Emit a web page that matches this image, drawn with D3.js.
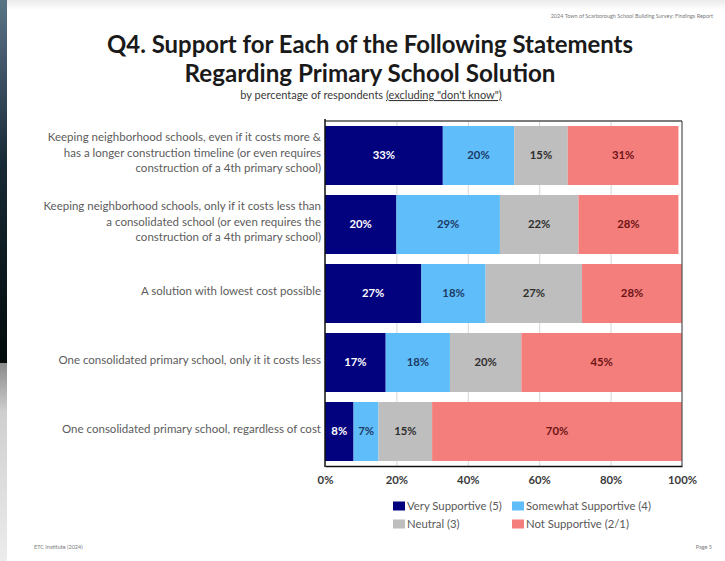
<!DOCTYPE html>
<html>
<head>
<meta charset="utf-8">
<script src="https://cdn.jsdelivr.net/npm/d3@7"></script>
<style>
  html, body { margin: 0; padding: 0; background: #ffffff; }
  svg { display: block; font-family: Lato, "Open Sans", sans-serif; }
</style>
</head>
<body>
<svg id="chart" width="725" height="561"></svg>
<script>
// Statements rated (line breaks mark how each label wraps)
const categories = [
  "Keeping neighborhood schools, even if it costs more &\nhas a longer construction timeline (or even requires\nconstruction of a 4th primary school)",
  "Keeping neighborhood schools, only if it costs less than\na consolidated school (or even requires the\nconstruction of a 4th primary school)",
  "A solution with lowest cost possible",
  "One consolidated primary school, only it it costs less",
  "One consolidated primary school, regardless of cost"
];
const seriesNames = ["Very Supportive (5)", "Somewhat Supportive (4)", "Neutral (3)", "Not Supportive (2/1)"];
// percentage of respondents per statement, one array per response level
const verySupportive     = [33, 20, 27, 17, 8];
const somewhatSupportive = [20, 29, 18, 18, 7];
const neutral            = [15, 22, 27, 20, 15];
const notSupportive      = [31, 28, 28, 45, 70];
const xTicks = [0, 20, 40, 60, 80, 100];

const colors     = ["#02027e", "#5fbefa", "#bebebe", "#f47e7c"];
const textColors = ["#ffffff", "#1d3a66", "#2e2e2e", "#6e1414"];

const svg = d3.select("#chart");

// ---- slide background ----
const defs = svg.append("defs");
const g1 = defs.append("linearGradient").attr("id", "edge").attr("x1", 0).attr("y1", 0).attr("x2", 0).attr("y2", 1);
g1.append("stop").attr("offset", "0%").attr("stop-color", "#587583");
g1.append("stop").attr("offset", "12%").attr("stop-color", "#4b5f75");
g1.append("stop").attr("offset", "45%").attr("stop-color", "#182a35");
g1.append("stop").attr("offset", "100%").attr("stop-color", "#020a0a");
const g2 = defs.append("linearGradient").attr("id", "edge2").attr("x1", 0).attr("y1", 0).attr("x2", 0).attr("y2", 1);
g2.append("stop").attr("offset", "0%").attr("stop-color", "#8a8a8a");
g2.append("stop").attr("offset", "25%").attr("stop-color", "#cfcfcf");
g2.append("stop").attr("offset", "100%").attr("stop-color", "#ececec");
const g3 = defs.append("linearGradient").attr("id", "topband").attr("x1", 0).attr("y1", 0).attr("x2", 0).attr("y2", 1);
g3.append("stop").attr("offset", "0%").attr("stop-color", "#ebebeb");
g3.append("stop").attr("offset", "100%").attr("stop-color", "#ffffff");

svg.append("rect").attr("x", 0).attr("y", 0).attr("width", 725).attr("height", 10).attr("fill", "url(#topband)");
svg.append("rect").attr("x", 0).attr("y", 0).attr("width", 7).attr("height", 363).attr("fill", "url(#edge)");
svg.append("rect").attr("x", 0).attr("y", 363).attr("width", 7).attr("height", 198).attr("fill", "url(#edge2)");

// ---- headers / footers ----
svg.append("text").attr("x", 713).attr("y", 18).attr("text-anchor", "end")
  .attr("font-size", 5.5).attr("fill", "#7a7a7a")
  .text("2024 Town of Scarborough School Building Survey: Findings Report");
svg.append("text").attr("x", 34).attr("y", 549)
  .attr("font-size", 5.5).attr("fill", "#7a7a7a").text("ETC Institute (2024)");
svg.append("text").attr("x", 712).attr("y", 549).attr("text-anchor", "end")
  .attr("font-size", 5.5).attr("fill", "#7a7a7a").text("Page 5");

function fitWidth(sel, w) {
  sel.attr("textLength", w).attr("lengthAdjust", "spacingAndGlyphs");
}

const t1 = svg.append("text").attr("x", 370).attr("y", 53).attr("text-anchor", "middle")
  .attr("font-size", 24).attr("font-weight", 700).attr("fill", "#1a1a1a")
  .text("Q4. Support for Each of the Following Statements");
fitWidth(t1, 526);
const t2 = svg.append("text").attr("x", 370).attr("y", 82).attr("text-anchor", "middle")
  .attr("font-size", 24).attr("font-weight", 700).attr("fill", "#1a1a1a")
  .text("Regarding Primary School Solution");
fitWidth(t2, 371);

const sub = svg.append("text").attr("x", 371).attr("y", 99).attr("text-anchor", "middle")
  .attr("font-size", 11).attr("fill", "#3a3a3a");
sub.append("tspan").text("by percentage of respondents ");
sub.append("tspan").attr("text-decoration", "underline").text("(excluding \"don't know\")");

// ---- scales ----
const plotLeft = 325, plotRight = 682, plotTop = 121, plotBottom = 466;
const x = d3.scaleLinear().domain([0, 100]).range([plotLeft, plotRight]);
const y = d3.scaleBand().domain(categories).range([plotTop, plotBottom]).paddingInner(0.145).paddingOuter(0.0725);

// gridlines
const grid = svg.append("g").attr("transform", `translate(0,${plotBottom})`)
  .call(d3.axisBottom(x).tickValues([20, 40, 60, 80]).tickSize(-(plotBottom - plotTop)).tickFormat(""));
grid.select(".domain").remove();
grid.selectAll("line").attr("stroke", "#d6d6d6").attr("stroke-width", 1);

// stacked data
const rows = categories.map((c, i) => ({
  cat: c,
  vals: [verySupportive[i], somewhatSupportive[i], neutral[i], notSupportive[i]]
}));
const keys = [0, 1, 2, 3];
const stack = d3.stack().keys(keys).value((d, k) => d.vals[k]);
const layers = stack(rows);

const layerG = svg.selectAll("g.layer").data(layers).join("g").attr("class", "layer")
  .attr("fill", (d, i) => colors[i]);
layerG.selectAll("rect").data(d => d).join("rect")
  .attr("x", d => x(d[0]))
  .attr("y", d => y(d.data.cat))
  .attr("width", d => x(d[1]) - x(d[0]))
  .attr("height", y.bandwidth());

layerG.each(function (layer, li) {
  d3.select(this).selectAll("text").data(layer).join("text")
    .attr("x", d => (x(d[0]) + x(d[1])) / 2)
    .attr("y", d => y(d.data.cat) + y.bandwidth() / 2)
    .attr("dy", "0.35em")
    .attr("text-anchor", "middle")
    .attr("font-size", 11.3).attr("font-weight", 700)
    .attr("fill", textColors[li])
    .text(d => (d[1] - d[0]) + "%");
});

// frame
svg.append("line").attr("x1", plotLeft).attr("x2", plotRight).attr("y1", plotTop).attr("y2", plotTop)
  .attr("stroke", "#505050").attr("stroke-width", 1.5);
svg.append("line").attr("x1", plotRight).attr("x2", plotRight).attr("y1", plotTop).attr("y2", plotBottom)
  .attr("stroke", "#505050").attr("stroke-width", 1.2);
svg.append("line").attr("x1", plotLeft).attr("x2", plotLeft).attr("y1", plotTop - 2).attr("y2", plotBottom + 1)
  .attr("stroke", "#111111").attr("stroke-width", 1.5);

// x axis
const xAxis = svg.append("g").attr("transform", `translate(0,${plotBottom})`)
  .call(d3.axisBottom(x).tickValues(xTicks).tickSize(0).tickPadding(10).tickFormat(d => d + "%"));
xAxis.select(".domain").attr("stroke", "#111111").attr("stroke-width", 1.5);
xAxis.selectAll("text").attr("font-family", "Lato, sans-serif").attr("font-size", 11.3)
  .attr("font-weight", 700).attr("fill", "#3a3a3a");

// category labels
const catG = svg.append("g");
categories.forEach(c => {
  const lines = c.split("\n");
  const cy = y(c) + y.bandwidth() / 2 - 3;
  const lh = 15.2;
  const t = catG.append("text").attr("text-anchor", "end")
    .attr("font-size", 11.5).attr("fill", "#5c5c5c");
  lines.forEach((ln, i) => {
    t.append("tspan").attr("x", 321)
      .attr("y", cy + (i - (lines.length - 1) / 2) * lh)
      .attr("dy", "0.35em").text(ln);
  });
});

// legend
const legendPos = [[393, 506], [512, 506], [393, 524], [512, 524]];
const leg = svg.append("g");
seriesNames.forEach((name, i) => {
  const [lx, ly] = legendPos[i];
  leg.append("rect").attr("x", lx).attr("y", ly - 4.5).attr("width", 12).attr("height", 9).attr("fill", colors[i]);
  leg.append("text").attr("x", lx + 14).attr("y", ly).attr("dy", "0.35em")
    .attr("font-size", 11.3).attr("fill", "#595959").text(name);
});
</script>
</body>
</html>
